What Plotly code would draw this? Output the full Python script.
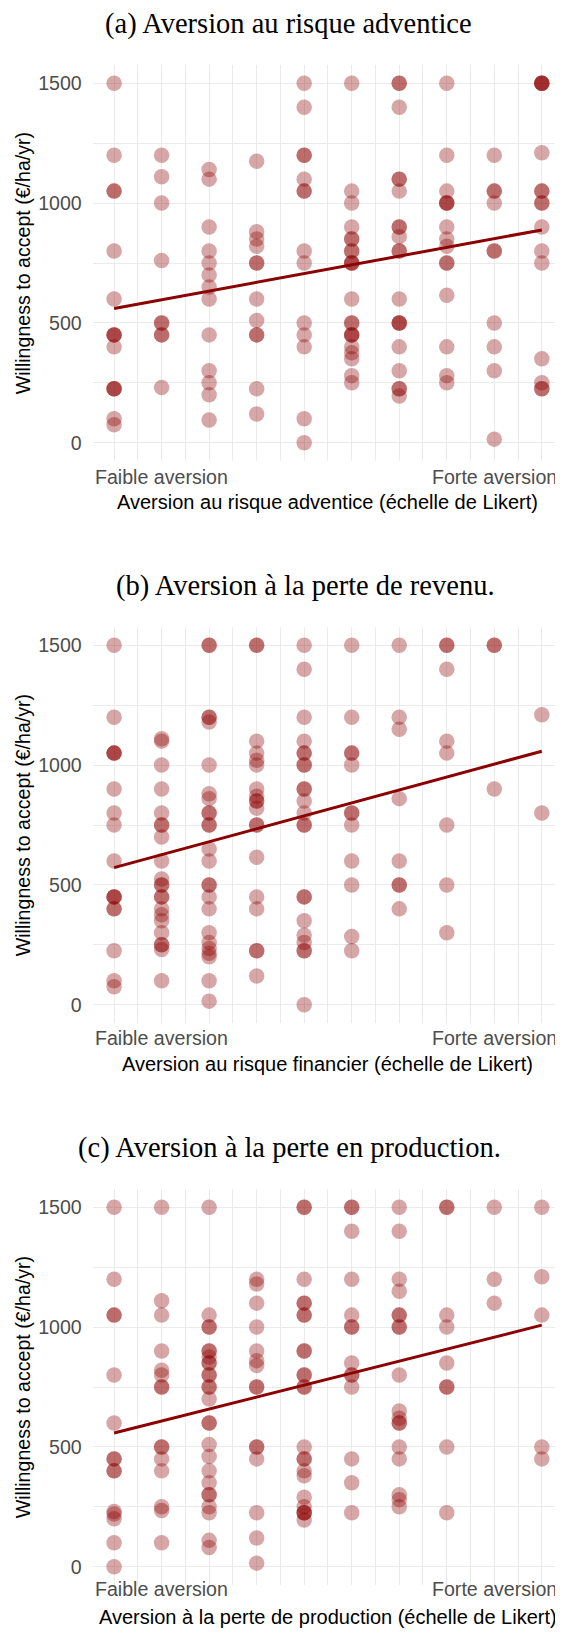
import plotly.graph_objects as go

# Likert levels (x) and WTA answers (€/ha/yr) read per level
likert = list(range(1, 11))

wta_adventice = [
    [1500, 1200, 1050, 1050, 800, 600, 450, 450, 450, 400, 225, 225, 225, 100, 75],
    [1200, 1110, 1000, 760, 500, 500, 450, 450, 230],
    [1140, 1100, 900, 800, 750, 700, 650, 600, 450, 300, 250, 200, 95],
    [1175, 880, 850, 820, 750, 750, 600, 510, 450, 450, 225, 120],
    [1500, 1400, 1200, 1200, 1100, 1050, 1050, 800, 750, 500, 450, 400, 100, 0],
    [1500, 1050, 1000, 900, 850, 850, 800, 800, 750, 750, 750, 600, 500, 500,
     450, 450, 450, 400, 375, 350, 280, 250],
    [1500, 1500, 1400, 1100, 1100, 1050, 900, 900, 860, 800, 800, 600, 500, 500,
     500, 400, 300, 225, 225, 195],
    [1500, 1200, 1050, 1000, 1000, 1000, 900, 850, 820, 750, 750, 615, 400, 280, 250],
    [1200, 1050, 1050, 1000, 800, 800, 500, 400, 300, 15],
    [1500, 1500, 1500, 1500, 1210, 1050, 1050, 1000, 1000, 900, 800, 750, 350, 250, 225, 225],
]

wta_revenu = [
    [1500, 1200, 1050, 1050, 1050, 900, 800, 750, 600, 450, 450, 450, 400, 400, 225, 100, 75],
    [1110, 1100, 1000, 900, 800, 750, 750, 700, 600, 525, 500, 500, 450, 450, 400,
     375, 350, 300, 250, 250, 230, 100],
    [1500, 1500, 1200, 1200, 1180, 1000, 880, 860, 800, 800, 750, 750, 650, 600, 500,
     500, 450, 400, 300, 260, 235, 215, 200, 100, 15],
    [1500, 1500, 1100, 1050, 1020, 1000, 900, 870, 850, 850, 820, 750, 750, 615, 450,
     400, 225, 225, 120],
    [1500, 1400, 1200, 1100, 1050, 1050, 1000, 1000, 900, 900, 850, 800, 750, 750,
     450, 450, 350, 290, 260, 225, 225, 0],
    [1500, 1200, 1050, 1050, 1000, 800, 800, 750, 600, 500, 285, 225],
    [1500, 1200, 1150, 860, 600, 500, 500, 400],
    [1500, 1500, 1400, 1100, 1050, 750, 500, 300],
    [1500, 1500, 900],
    [1210, 800],
]

wta_production = [
    [1500, 1200, 1050, 1050, 800, 600, 450, 450, 400, 400, 230, 220, 200, 100, 0],
    [1500, 1110, 1050, 900, 820, 800, 750, 750, 500, 500, 450, 400, 250, 235, 100],
    [1500, 1050, 1000, 1000, 900, 900, 875, 850, 850, 800, 800, 750, 750, 700, 600,
     600, 510, 460, 400, 350, 300, 300, 250, 225, 110, 80],
    [1200, 1180, 1100, 1000, 900, 860, 840, 750, 750, 500, 500, 450, 225, 120, 15],
    [1500, 1500, 1200, 1100, 1100, 1050, 1050, 900, 900, 800, 800, 750, 750, 500,
     450, 450, 400, 380, 290, 250, 225, 225, 225, 195],
    [1500, 1500, 1400, 1200, 1050, 1000, 1000, 850, 800, 800, 750, 450, 350, 225],
    [1500, 1400, 1200, 1150, 1050, 1050, 1000, 1000, 800, 650, 620, 600, 600, 500,
     450, 300, 280, 250],
    [1500, 1500, 1050, 1000, 850, 750, 750, 500, 225],
    [1500, 1200, 1100],
    [1500, 1210, 1050, 500, 450],
]

# fitted line, value at Likert 1 and 10
fit_x = [1, 10]
fit_adventice = [560, 888]
fit_revenu = [572, 1058]
fit_production = [558, 1008]

titles = [
    "(a) Aversion au risque adventice",
    "(b) Aversion à la perte de revenu.",
    "(c) Aversion à la perte en production.",
]
x_titles = [
    "Aversion au risque adventice (échelle de Likert)",
    "Aversion au risque financier (échelle de Likert)",
    "Aversion à la perte de production (échelle de Likert)",
]
x_label_pos = [2, 9]
x_label_text = ["Faible aversion", "Forte aversion"]
y_ticks = [0, 500, 1000, 1500]
y_title = "Willingness to accept (€/ha/yr)"

# positions below are page pixels; the html body adds an 8px margin
PAGE_W, PAGE_H = 563, 1638
OFF = 8
W, H = PAGE_W - OFF, PAGE_H - OFF
STEP = 562            # vertical distance between panels
TOP, BOTTOM = 65.3, 460.7
LEFT = 92.7
title_cx = [288, 305, 289]
xlabel_y = [476.5, 1038, 1589]
xtitle_y = [502, 1063.5, 1617]


def px_x(p):
    return (p - OFF) / W


def px_y(p):
    return 1 - (p - OFF) / H


RED = "#8b0000"
GRID = "#ebebeb"
SANS = "Liberation Sans, Arial, sans-serif"
SERIF = "Liberation Serif, Times New Roman, serif"

fig = go.Figure()
annotations = []

panels = [
    (wta_adventice, fit_adventice),
    (wta_revenu, fit_revenu),
    (wta_production, fit_production),
]

for i, (wta, fit) in enumerate(panels):
    n = "" if i == 0 else str(i + 1)
    xs, ys = [], []
    for lvl, vals in zip(likert, wta):
        xs += [lvl] * len(vals)
        ys += vals

    fig.add_trace(go.Scatter(
        x=xs, y=ys, mode="markers",
        marker=dict(color=RED, opacity=0.35, size=15.5, line=dict(width=0)),
        xaxis="x" + n, yaxis="y" + n, showlegend=False, hoverinfo="skip",
    ))
    fig.add_trace(go.Scatter(
        x=fit_x, y=fit, mode="lines",
        line=dict(color=RED, width=3),
        xaxis="x" + n, yaxis="y" + n, showlegend=False, hoverinfo="skip",
    ))

    top = TOP + STEP * i
    bot = BOTTOM + STEP * i

    fig.layout["xaxis" + n] = dict(
        domain=[px_x(LEFT), 1], range=[0.55, 10.446], anchor="y" + n,
        tickvals=likert, showticklabels=False, ticks="",
        showgrid=True, gridcolor=GRID, gridwidth=1.1,
        minor=dict(tickvals=[k + 0.5 for k in likert[:-1]], showgrid=True,
                   gridcolor=GRID, gridwidth=0.8),
        zeroline=False, showline=False,
    )
    fig.layout["yaxis" + n] = dict(
        domain=[px_y(bot), px_y(top)], range=[-75, 1575], anchor="x" + n,
        tickvals=y_ticks,
        tickfont=dict(family=SANS, size=19.6, color="#4d4d4d"),
        ticks="outside", ticklen=6, tickcolor="rgba(0,0,0,0)",
        showgrid=True, gridcolor=GRID, gridwidth=1.1,
        minor=dict(tickvals=[250, 750, 1250], showgrid=True,
                   gridcolor=GRID, gridwidth=0.8),
        zeroline=False, showline=False,
    )

    # x tick labels (only the two ends of the Likert scale are named)
    for pos, txt in zip(x_label_pos, x_label_text):
        annotations.append(dict(
            text=txt, x=pos, y=px_y(xlabel_y[i]),
            xref="x" + n, yref="paper", xanchor="center", yanchor="middle",
            showarrow=False, font=dict(family=SANS, size=19.6, color="#4d4d4d"),
        ))
    # panel caption (serif, like the LaTeX subcaption)
    annotations.append(dict(
        text=titles[i], x=px_x(title_cx[i]), y=px_y(24 + STEP * i),
        xref="paper", yref="paper", xanchor="center", yanchor="middle",
        showarrow=False, font=dict(family=SERIF, size=28.5, color="black"),
    ))
    # x axis title
    annotations.append(dict(
        text=x_titles[i], x=px_x((LEFT + PAGE_W) / 2), y=px_y(xtitle_y[i]),
        xref="paper", yref="paper", xanchor="center", yanchor="middle",
        showarrow=False, font=dict(family=SANS, size=20, color="black"),
    ))
    # y axis title
    annotations.append(dict(
        text=y_title, x=px_x(23.3), y=px_y((top + bot) / 2),
        xref="paper", yref="paper", xanchor="center", yanchor="middle",
        textangle=-90, showarrow=False,
        font=dict(family=SANS, size=19.6, color="black"),
    ))

fig.update_layout(
    width=W, height=H,
    margin=dict(l=0, r=0, t=0, b=0),
    paper_bgcolor="white", plot_bgcolor="white",
    annotations=annotations,
)

fig.write_html("out.html")
